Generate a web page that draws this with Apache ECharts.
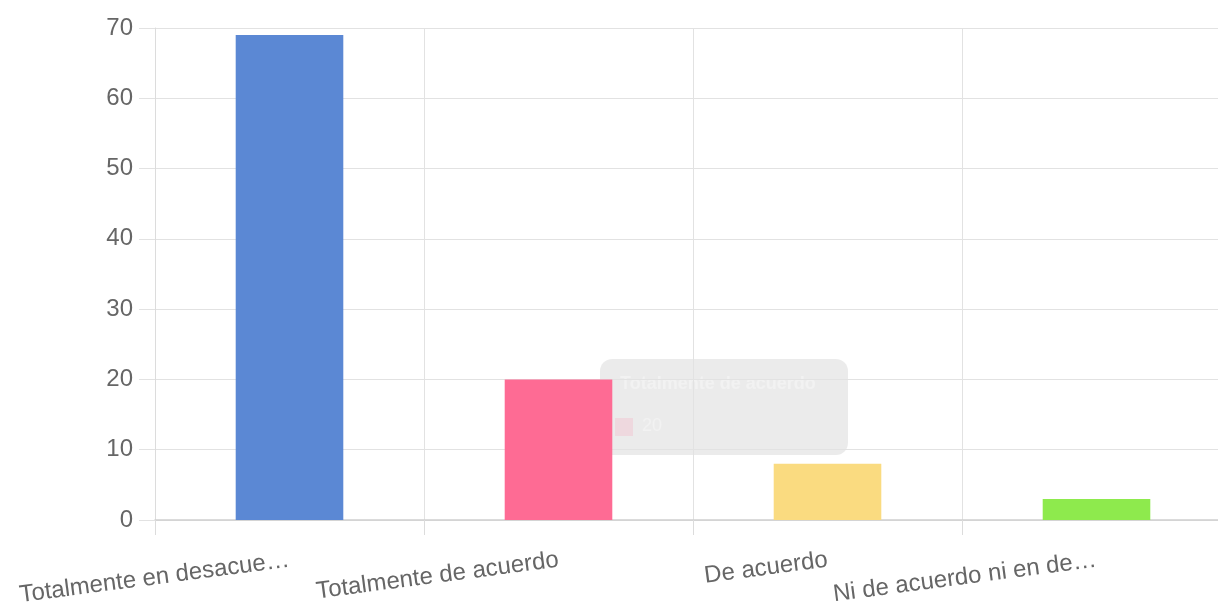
<!DOCTYPE html>
<html><head><meta charset="utf-8">
<script src="https://cdn.jsdelivr.net/npm/echarts@6/dist/echarts.min.js"></script>
<style>html,body{margin:0;padding:0;background:#fff}#c{width:1218px;height:608px}</style>
</head><body><div id="c"></div>
<script>
var categories = ['Totalmente en desacue…', 'Totalmente de acuerdo', 'De acuerdo', 'Ni de acuerdo ni en de…'];
var values = [69, 20, 8, 3];
var colors = ['#5b88d4', '#fe6b94', '#fadb80', '#8eea4d'];
var yTicks = [0, 10, 20, 30, 40, 50, 60, 70];

var chart = echarts.init(document.getElementById('c'), null, {renderer: 'canvas'});
chart.setOption({
  animation: false,
  grid: {left: 155, top: 28, width: 1076, height: 492, containLabel: false, outerBoundsMode: 'none'},
  xAxis: {
    type: 'category',
    data: categories,
    boundaryGap: true,
    axisLine: {show: true, lineStyle: {color: '#d0d0d0', width: 1.5}},
    axisTick: {show: true, length: 15, lineStyle: {color: '#dcdcdc'}},
    splitLine: {show: true, lineStyle: {color: '#e2e2e2'}},
    axisLabel: {rotate: 7.5, margin: 40, fontSize: 24, color: '#666', fontFamily: '"Liberation Sans", Arial, sans-serif', interval: 0}
  },
  yAxis: {
    type: 'value',
    min: 0, max: yTicks[yTicks.length - 1], interval: 10,
    axisLine: {show: true, lineStyle: {color: '#dcdcdc'}},
    axisTick: {show: true, length: 16, lineStyle: {color: '#e2e2e2'}},
    splitLine: {show: true, lineStyle: {color: '#e2e2e2'}},
    axisLabel: {margin: 22, fontSize: 24, color: '#666', fontFamily: '"Liberation Sans", Arial, sans-serif'}
  },
  series: [{
    type: 'bar',
    barWidth: '40%',
    data: values.map(function (v, i) { return {value: v, itemStyle: {color: colors[i]}}; })
  }],
  graphic: [{
    type: 'group',
    left: 590, top: 359,
    children: [
      {type: 'polygon', shape: {points: [[10, 38], [0, 49], [10, 60]]}, style: {fill: 'rgba(0,0,0,0.08)'}},
      {type: 'rect', shape: {x: 10, y: 0, width: 248, height: 96, r: 12}, style: {fill: 'rgba(0,0,0,0.08)'}},
      {type: 'text', style: {x: 30, y: 16, text: 'Totalmente de acuerdo', font: 'bold 18px "Liberation Sans", Arial, sans-serif', fill: 'rgba(255,255,255,0.3)'}},
      {type: 'rect', shape: {x: 25, y: 59, width: 18, height: 18}, style: {fill: 'rgba(254,107,148,0.15)'}},
      {type: 'text', style: {x: 52, y: 58, text: '20', font: '18px "Liberation Sans", Arial, sans-serif', fill: 'rgba(255,255,255,0.3)'}}
    ]
  }]
});
</script></body></html>
